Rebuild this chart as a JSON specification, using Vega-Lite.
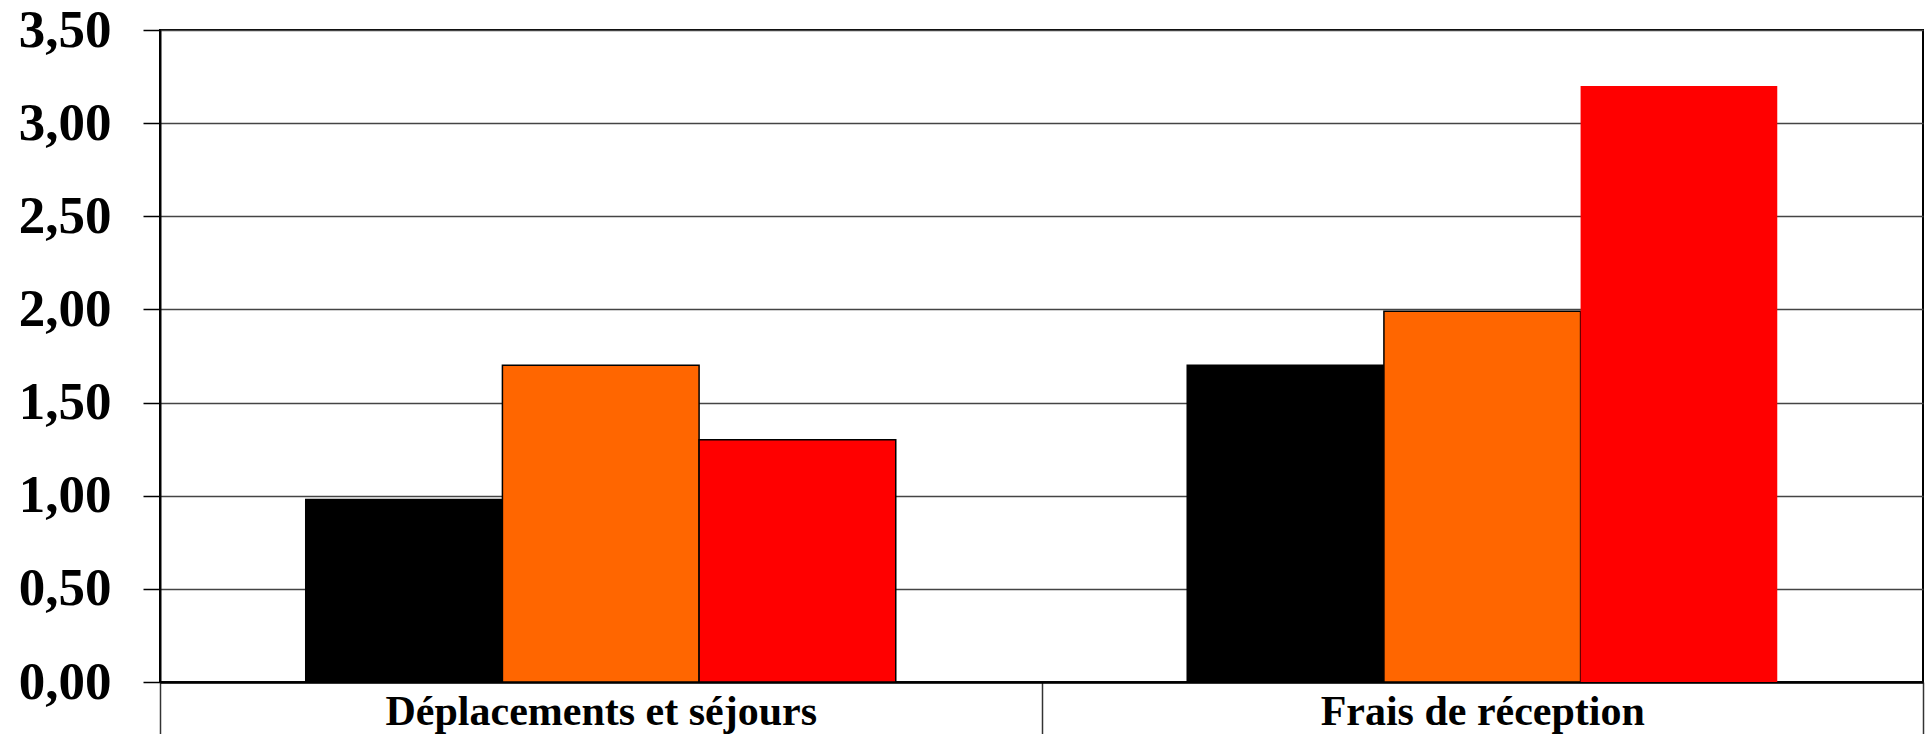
{
  "$schema": "https://vega.github.io/schema/vega-lite/v6.json",
  "width": 1763,
  "height": 652,
  "autosize": {"type": "none"},
  "padding": {"left": 160, "top": 30, "right": 3, "bottom": 52},
  "background": "white",
  "config": {"view": {"stroke": "black", "strokeWidth": 2}, "font": "Liberation Serif"},
  "data": {
    "values": [
      {"poste": "Déplacements et séjours", "serie": "A", "valeur": 0.98},
      {"poste": "Déplacements et séjours", "serie": "B", "valeur": 1.70},
      {"poste": "Déplacements et séjours", "serie": "C", "valeur": 1.30},
      {"poste": "Frais de réception", "serie": "A", "valeur": 1.70},
      {"poste": "Frais de réception", "serie": "B", "valeur": 1.99},
      {"poste": "Frais de réception", "serie": "C", "valeur": 3.20}
    ]
  },
  "mark": {"type": "bar", "stroke": "black", "strokeWidth": 1.5},
  "encoding": {
    "x": {
      "field": "poste",
      "type": "nominal",
      "sort": ["Déplacements et séjours", "Frais de réception"],
      "scale": {"paddingInner": 0, "paddingOuter": 0},
      "axis": {
        "title": null,
        "labelAngle": 0,
        "tickBand": "extent",
        "tickSize": 52,
        "tickColor": "#333333",
        "tickWidth": 1.5,
        "domainColor": "black",
        "domainWidth": 2.5,
        "labelFont": "Liberation Serif",
        "labelFontWeight": "bold",
        "labelFontSize": 42,
        "labelColor": "black",
        "labelBaseline": "top",
        "labelPadding": -43,
        "labelLimit": 1000,
        "grid": false
      }
    },
    "xOffset": {
      "field": "serie",
      "type": "nominal",
      "sort": ["A", "B", "C"],
      "scale": {"paddingInner": 0, "paddingOuter": 0.741}
    },
    "y": {
      "field": "valeur",
      "type": "quantitative",
      "scale": {"domain": [0, 3.5], "nice": false},
      "axis": {
        "title": null,
        "values": [0, 0.5, 1, 1.5, 2, 2.5, 3, 3.5],
        "labelExpr": "replace(format(datum.value, '.2f'), '.', ',')",
        "labelFont": "Liberation Serif",
        "labelFontWeight": "bold",
        "labelFontSize": 53,
        "labelColor": "black",
        "labelPadding": 32,
        "labelLimit": 1000,
        "tickSize": 17,
        "tickColor": "black",
        "tickWidth": 1.5,
        "domainColor": "black",
        "domainWidth": 2,
        "grid": true,
        "gridColor": "#444444",
        "gridWidth": 1.5
      }
    },
    "color": {
      "field": "serie",
      "type": "nominal",
      "scale": {"domain": ["A", "B", "C"], "range": ["#000000", "#FF6600", "#FF0000"]},
      "legend": null
    },
    "strokeOpacity": {"condition": {"test": "datum.valeur > 3", "value": 0}, "value": 1}
  }
}
